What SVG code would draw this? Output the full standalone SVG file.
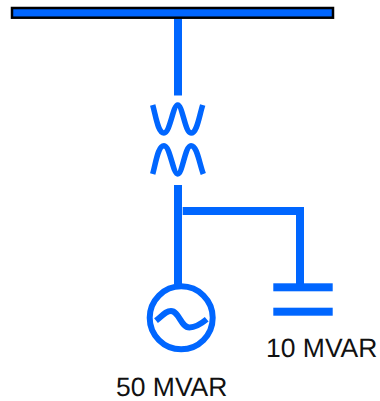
<svg xmlns="http://www.w3.org/2000/svg" width="380" height="401" viewBox="0 0 380 401">
<style>
.w{fill:none;stroke:#0066ff;stroke-width:8}
.c{fill:none;stroke:#0066ff;stroke-width:6}
.t{fill:none;stroke:#0066ff;stroke-width:5.500}
text{font-family:"Liberation Sans",Arial,sans-serif;font-size:26.500px;fill:#111;text-rendering:geometricPrecision}
</style>
<rect width="380" height="401" fill="#fff"/>
<g id="connectors">
<path class="w" d="M178 18V95.500"/>
<path class="w" d="M178 185V284"/>
<path class="w" d="M182.700 211H300V284"/>
</g>
<g id="bus"><rect x="12" y="8" width="321" height="9.700" fill="#0066ff" stroke="#000" stroke-width="2.500"/></g>
<g id="transformer">
<path class="t" d="M152.700 105C156 117 158 133 164 133C170 133 173 105 177.700 105C182.500 105 185 133 191 133C197 133 199 117 202.700 105"/>
<path class="t" d="M152.700 174C156 162 158 145.700 164 145.700C170 145.700 173 174 177.700 174C182.500 174 185 145.700 191 145.700C197 145.700 199 162 203.300 174"/>
</g>
<g id="generator">
<circle class="c" cx="181.200" cy="317.800" r="31.500"/>
<path class="c" d="M156 320.700C163 315 166 311 171 311C179 311 181 327.500 189.500 327.500C196 327.500 201 324 206.700 319.300"/>
<text x="116" y="395.500">50 MVAR</text>
</g>
<g id="capacitor">
<rect x="273.300" y="283.300" width="59.400" height="8" fill="#0066ff"/>
<rect x="273.300" y="307.700" width="59.400" height="8" fill="#0066ff"/>
<text x="266" y="356.500">10 MVAR</text>
</g>
</svg>
